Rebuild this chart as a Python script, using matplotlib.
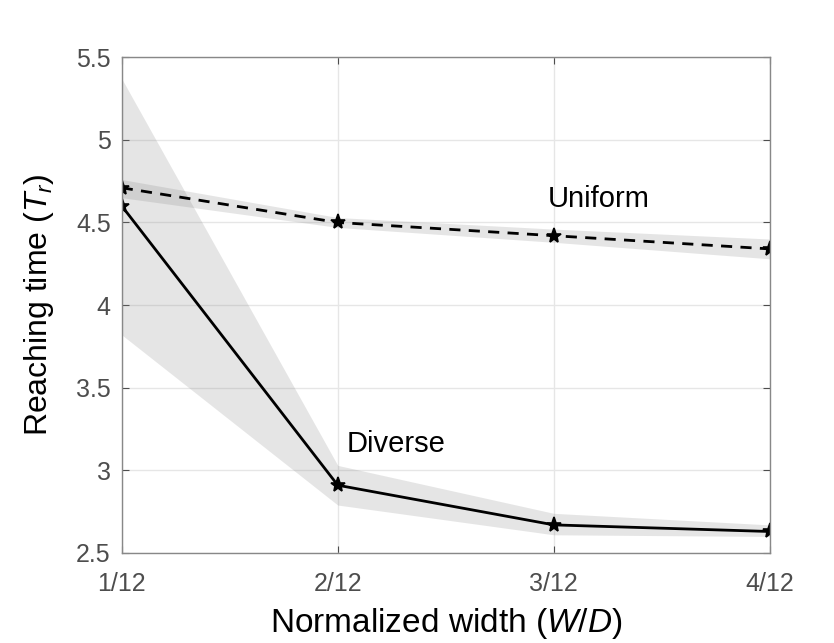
import matplotlib
matplotlib.use("Agg")
from matplotlib import pyplot as plt
import numpy as np

plt.rcParams['font.family'] = ['Liberation Sans', 'DejaVu Sans']
plt.rcParams['mathtext.fontset'] = 'custom'
plt.rcParams['mathtext.rm'] = 'Liberation Sans'
plt.rcParams['mathtext.it'] = 'Liberation Sans:italic'

# data
widths = [1 / 12, 2 / 12, 3 / 12, 4 / 12]
width_labels = ['1/12', '2/12', '3/12', '4/12']

uniform_mean = [4.71, 4.50, 4.42, 4.34]
uniform_low = [4.65, 4.47, 4.38, 4.28]
uniform_high = [4.76, 4.53, 4.46, 4.40]

diverse_mean = [4.60, 2.91, 2.67, 2.63]
diverse_low = [3.82, 2.79, 2.61, 2.60]
diverse_high = [5.37, 3.03, 2.74, 2.67]

fig = plt.figure(figsize=(8.34, 6.43), dpi=100)
ax = fig.add_axes([0.146, 0.140, 0.777, 0.771])

ax.fill_between(widths, diverse_low, diverse_high, color='gray', alpha=0.2, lw=0)
ax.fill_between(widths, uniform_low, uniform_high, color='gray', alpha=0.2, lw=0)

ax.plot(widths, uniform_mean, color='black', ls=(0, (4, 3)), lw=2,
        marker='*', ms=11, mew=1.2)
ax.plot(widths, diverse_mean, color='black', ls='-', lw=2,
        marker='*', ms=11, mew=1.2)

ax.text(3 / 12 - 0.0025, 4.64, 'Uniform', fontsize=21, va='center', ha='left')
ax.text(2 / 12 + 0.0035, 3.16, 'Diverse', fontsize=21, va='center', ha='left')

ax.set_xlim(1 / 12, 4 / 12)
ax.set_ylim(2.5, 5.5)
ax.set_xticks(widths)
ax.set_xticklabels(width_labels)
ax.set_yticks(np.arange(2.5, 5.51, 0.5))
ax.set_yticklabels(['2.5', '3', '3.5', '4', '4.5', '5', '5.5'])

ax.grid(True, color='#e6e6e6', lw=1)
ax.set_axisbelow(True)
ax.tick_params(direction='in', top=True, right=True, labelsize=18,
               colors='#4d4d4d', length=5, pad=8)
ax.tick_params(axis='x', pad=14)
for s in ax.spines.values():
    s.set_color('#888888')
    s.set_linewidth(1)

ax.set_xlabel('Normalized width ($W/D$)', fontsize=24, labelpad=7)
ax.set_ylabel('Reaching time ($T_r$)', fontsize=23, labelpad=14)

fig.savefig('out.png', dpi=100)
